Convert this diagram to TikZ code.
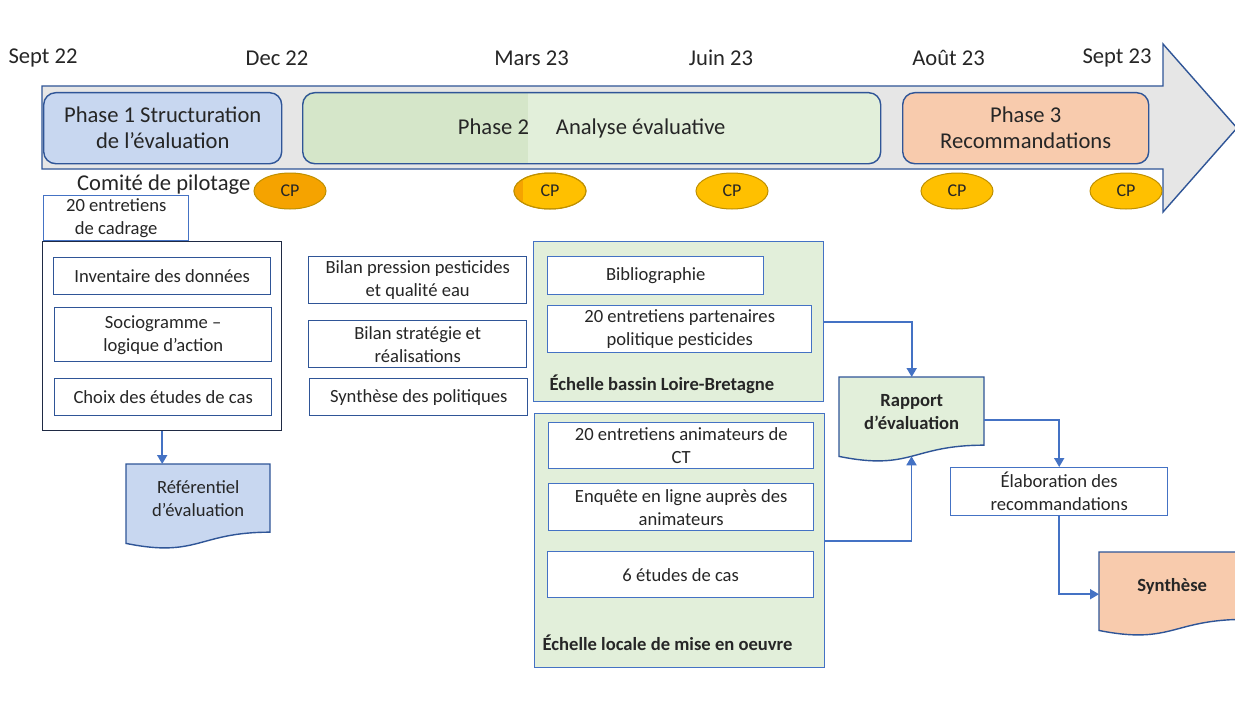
\documentclass[tikz,border=0pt]{standalone}
\usepackage{fontspec}
\setmainfont{Carlito}
\usetikzlibrary{arrows.meta,shapes.geometric}
\definecolor{bblue}{HTML}{4472C4}
\definecolor{dblue}{HTML}{2F5597}
\definecolor{navy}{HTML}{1F2A44}
\definecolor{txt}{HTML}{262626}
\definecolor{lblue}{HTML}{C8D7F0}
\definecolor{lgreen}{HTML}{E2EFDA}
\definecolor{mgreen}{HTML}{D5E6C9}
\definecolor{peach}{HTML}{F8CBAD}
\definecolor{gold}{HTML}{FFC000}
\definecolor{goldb}{HTML}{BF9000}
\definecolor{orng}{HTML}{F5A300}
\definecolor{band}{HTML}{E6E6E6}
\newcommand\bx[7]{\pgfmathsetmacro\bxw{#4-#2}\pgfmathsetmacro\bxh{#5-#3}%
  \node[#6,minimum width=\bxw pt,minimum height=\bxh pt,anchor=north west] (#1) at (#2,#3) {#7};}
\newcommand\docnode[7]{%
  \pgfmathsetmacro\dxm{(#2+#4)/2}%
  \pgfmathsetmacro\dyr{#3+0.802*#5}%
  \pgfmathsetmacro\dyc{#3+1.107*#5}%
  \pgfmathsetmacro\dyl{#3+0.934*#5}%
  \pgfmathsetmacro\dyb{#3+0.933*#5}%
  \pgfmathsetmacro\dyh{#3+#5}%
  \draw[draw=dblue,line width=1.4pt,fill=#6] (#2,#3) -- (#4,#3) -- (#4,\dyr) .. controls (\dxm,\dyr) and (\dxm,\dyc) .. (#2,\dyl) -- cycle;
  \bx{#1}{#2}{#3}{#4}{\dyh}{inner sep=0pt}{}
  \coordinate (#1-b) at (\dxm,\dyb);
  \node[doctext] (#1-t) at ([yshift=8pt]#1.center) {#7};}
\begin{document}
\begin{tikzpicture}[x=1pt,y=-1pt,
  every node/.style={text=txt},
  wbox/.style={draw=bblue,line width=1.4pt,fill=white,align=center,inner sep=1pt,font=\fontsize{18.6}{23}\selectfont},
  dbox/.style={wbox,draw=dblue},
  cont/.style={draw=bblue,line width=1.4pt,fill=lgreen,inner sep=0pt},
  phase/.style={draw=dblue,line width=1.4pt,rounded corners=12pt,align=center,inner sep=0pt,font=\fontsize{22.6}{26}\selectfont},
  date/.style={font=\fontsize{22.6}{26}\selectfont},
  cp/.style={ellipse,draw=goldb,fill=gold,line width=1pt,minimum width=72pt,minimum height=36pt,inner sep=0pt,font=\fontsize{18}{20}\selectfont},
  conn/.style={draw=bblue,line width=1.8pt,-{Triangle[width=10pt,length=9pt]}},
  lbl/.style={font=\bfseries\fontsize{18.6}{22}\selectfont,anchor=west},
  doctext/.style={align=center,font=\fontsize{18.6}{23}\selectfont}]
\useasboundingbox[fill=white] (0,0) rectangle (1235,717);

% timeline arrow
\draw[draw=dblue,line width=1.4pt,fill=band] (42,86) -- (1163,86) -- (1163,44) -- (1237,128) -- (1163,212) -- (1163,169) -- (42,169) -- cycle;

% dates
\node[date] (d1) at (43,58) {Sept 22};
\node[date] (d2) at (277,58) {Dec 22};
\node[date] (d3) at (531.5,58) {Mars 23};
\node[date] (d4) at (721,58) {Juin 23};
\node[date] (d5) at (948.5,58) {Août 23};
\node[date] (d6) at (1117,58) {Sept 23};

% phases
\bx{ph1}{43}{92}{281}{163}{phase,fill=lblue}{Phase 1 Structuration\\de l’évaluation}
\fill[lgreen,rounded corners=12pt] (302,92) rectangle (880,163);
\begin{scope}
  \clip[rounded corners=12pt] (302,92) rectangle (880,163);
  \fill[mgreen] (302,92) rectangle (528,163);
\end{scope}
\bx{ph2}{302}{92}{880}{163}{phase}{Phase 2\hspace{27pt}Analyse évaluative}
\bx{ph3}{902}{92}{1148}{163}{phase,fill=peach}{Phase 3\\Recommandations}

% comite
\node[date,anchor=west,inner sep=0pt] (comite) at (77,185) {Comité de pilotage};
\node[cp,fill=orng,draw=goldb] (cp1) at (290,191) {CP};
\node[cp] (cp2) at (550,191) {CP};
\begin{scope}
  \clip (550,191) ellipse [x radius=36, y radius=18];
  \fill[orng] (510,170) rectangle (523,212);
\end{scope}
\draw[goldb,line width=1pt] (550,191) ellipse [x radius=36, y radius=18];
\node[cp] (cp3) at (732,191) {CP};
\node[cp] (cp4) at (957,191) {CP};
\node[cp] (cp5) at (1126,191) {CP};

% left column
\bx{big}{42}{241}{281}{430}{draw=navy,line width=1.4pt,fill=white,inner sep=0pt}{}
\bx{cadr}{43}{195}{188}{240}{wbox}{20 entretiens\\de cadrage}
\bx{inv}{53}{257}{270}{294}{dbox}{Inventaire des données}
\bx{soc}{54}{307}{271}{361}{dbox}{Sociogramme –\\logique d’action}
\bx{choix}{54}{378}{271}{415}{dbox}{Choix des études de cas}

% middle column
\bx{bp}{308}{256}{526}{303}{dbox}{Bilan pression pesticides\\et qualité eau}
\bx{bs}{308}{320}{526}{367}{dbox}{Bilan stratégie et\\réalisations}
\bx{sp}{309}{378}{527}{415}{dbox}{Synthèse des politiques}

% bassin container
\bx{bassin}{533}{241}{823}{401}{cont}{}
\bx{biblio}{547}{256}{763}{294}{wbox}{Bibliographie}
\bx{part}{547}{305}{811}{352}{wbox}{20 entretiens partenaires\\politique pesticides}
\node[lbl] (lb1) at (546,384) {Échelle bassin Loire-Bretagne};

% local container
\bx{local}{534}{413}{824}{667}{cont}{}
\bx{anim}{548}{422}{813}{468}{wbox}{20 entretiens animateurs de\\CT}
\bx{enq}{548}{483}{813}{530}{wbox}{Enquête en ligne auprès des\\animateurs}
\bx{etud}{547}{551}{813}{597}{wbox}{6 études de cas}
\node[lbl] (lb2) at (539,643) {Échelle locale de mise en oeuvre};

% documents
\docnode{ref}{126}{464}{270}{85}{lblue}{Référentiel\\d’évaluation}
\docnode{rap}{839}{377}{984}{85}{lgreen}{\textbf{Rapport}\\\textbf{d’évaluation}}
\docnode{syn}{1099}{552}{1245}{84}{peach}{\textbf{Synthèse}}
\bx{elab}{950}{467}{1167}{515}{wbox}{Élaboration des\\recommandations}

% connectors
\draw[conn] (big.south) -- (big.south |- ref.north);
\draw[conn] (bassin.east) -| (rap.north);
\draw[conn] (local.east) -| (rap-b);
\draw[conn] (rap.east) -| (elab.north);
\draw[conn] (elab.south) |- (syn.west);
\end{tikzpicture}
\end{document}
